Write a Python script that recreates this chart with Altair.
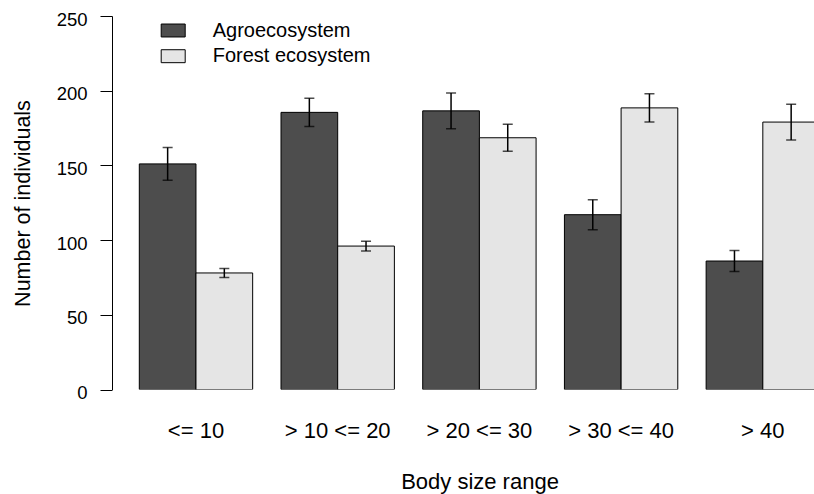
import altair as alt
import pandas as pd

# Body-size classes and the two ecosystems compared
categories = ["<= 10", "> 10 <= 20", "> 20 <= 30", "> 30 <= 40", "> 40"]
systems = ["Agroecosystem", "Forest ecosystem"]

# Mean number of individuals and error half-widths per class
agro_mean = [151, 185.5, 186.5, 117, 86]
agro_err = [11, 9.5, 12, 10, 7]
forest_mean = [78, 96, 168.5, 188.5, 179]
forest_err = [3, 3.3, 9, 9.5, 12]

rows = []
for i, cat in enumerate(categories):
    for sys_name, means, errs in (
        ("Agroecosystem", agro_mean, agro_err),
        ("Forest ecosystem", forest_mean, forest_err),
    ):
        rows.append({
            "range": cat,
            "system": sys_name,
            "mean": means[i],
            "lo": means[i] - errs[i],
            "hi": means[i] + errs[i],
        })
df = pd.DataFrame(rows)

FONT = "Liberation Sans"

x_enc = alt.X(
    "range:N",
    sort=categories,
    scale=alt.Scale(range=[27.3, 707.5], paddingInner=0.2, paddingOuter=0),
    axis=alt.Axis(
        title="Body size range",
        labelAngle=0,
        labelFontSize=22,
        labelColor="black",
        labelPadding=48,
        labelBaseline="alphabetic",
        ticks=False,
        tickSize=0,
        domain=False,
        titleFontSize=22,
        titleFontWeight="normal",
        titleColor="black",
        titleX=367.5,
        titleY=98.5,
        titleBaseline="alphabetic",
        titleAlign="center",
    ),
)
xoff_enc = alt.XOffset(
    "system:N", sort=systems, scale=alt.Scale(paddingInner=0, paddingOuter=0)
)

base = alt.Chart(df).encode(x=x_enc, xOffset=xoff_enc)

bars = base.mark_bar(stroke="black", strokeWidth=1, clip=True).encode(
    y=alt.Y(
        "mean:Q",
        scale=alt.Scale(domain=[0, 250], nice=False),
        axis=alt.Axis(
            title="Number of individuals",
            values=[0, 50, 100, 150, 200, 250],
            grid=False,
            tickSize=12,
            tickColor="black",
            tickWidth=1,
            domainColor="black",
            domainWidth=1,
            labelFontSize=18.5,
            labelColor="black",
            labelPadding=13,
            labelOffset=3,
            titleFontSize=21.5,
            titleFontWeight="normal",
            titleColor="black",
            titleX=-89,
            titleY=187,
            titleAngle=-90,
            titleAlign="center",
            titleBaseline="middle",
        ),
    ),
    color=alt.Color(
        "system:N",
        scale=alt.Scale(domain=systems, range=["#4d4d4d", "#e5e5e5"]),
        legend=alt.Legend(
            title=None,
            orient="none",
            legendX=48.7,
            legendY=2,
            padding=0,
            symbolType="M-1,-0.54H1V0.54H-1Z",
            symbolSize=576,
            symbolStrokeColor="black",
            symbolStrokeWidth=1,
            symbolOpacity=1,
            labelFontSize=20,
            labelColor="black",
            labelOffset=27,
            rowPadding=2.7,
        ),
    ),
)

stems = base.mark_rule(color="black", strokeWidth=1.5, clip=True).encode(
    y="lo:Q", y2="hi:Q"
)
caps_lo = base.mark_tick(color="black", thickness=1.5, size=10, clip=True).encode(
    y="lo:Q"
)
caps_hi = base.mark_tick(color="black", thickness=1.5, size=10, clip=True).encode(
    y="hi:Q"
)

chart = (
    alt.layer(bars, stems, caps_lo, caps_hi)
    .properties(
        width=702,
        height=373.5,
        padding={"left": 112, "top": 16, "right": 0, "bottom": 104.5},
        autosize=alt.AutoSizeParams(type="none"),
        background="white",
    )
    .configure(font=FONT)
    .configure_view(stroke=None)
)

chart.save("out.html", embed_options={"renderer": "svg", "actions": False})
